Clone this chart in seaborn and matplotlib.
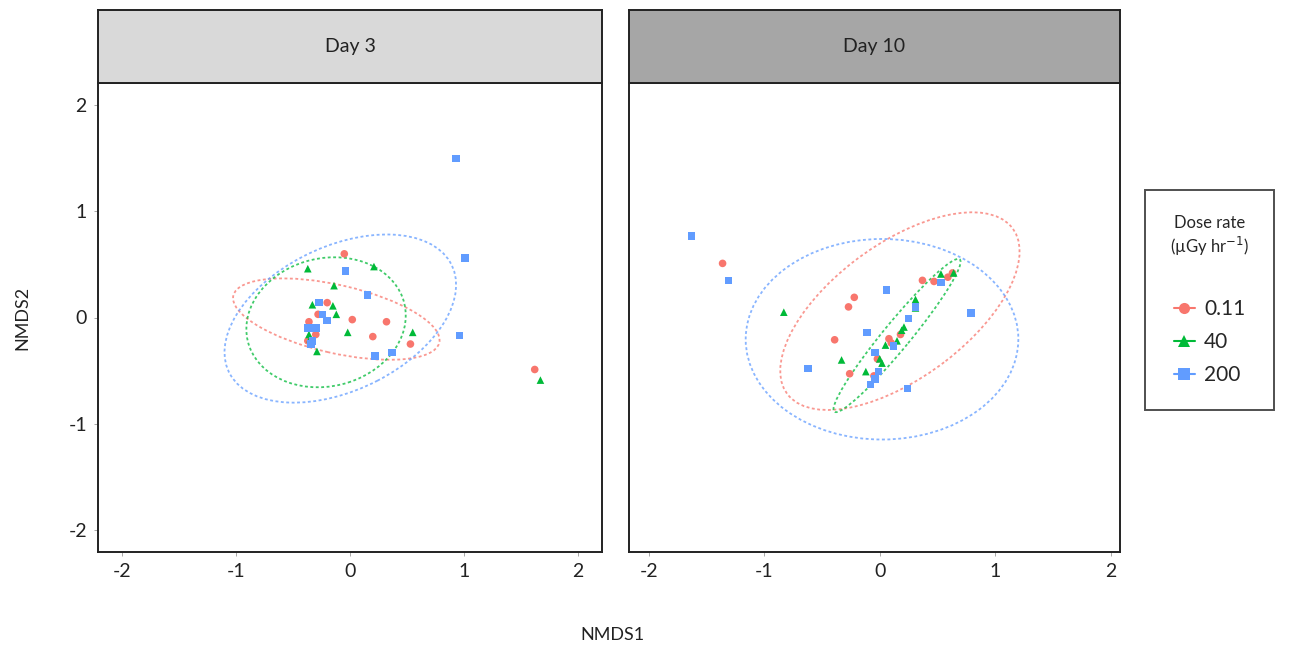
import matplotlib
matplotlib.use('Agg')
import matplotlib.pyplot as plt
import pandas as pd
import seaborn as sns
from matplotlib.patches import Ellipse
from matplotlib.lines import Line2D

# NMDS scores (day 3)
d3_x_low = [-0.05, -0.20, -0.28, 0.02, 0.32, -0.36, 0.20, 0.53, -0.30, -0.37, 1.62]
d3_y_low = [0.60, 0.14, 0.03, -0.02, -0.04, -0.04, -0.18, -0.25, -0.16, -0.22, -0.49]
d3_x_mid = [-0.37, 0.21, -0.14, -0.33, -0.15, -0.12, -0.02, 0.55, -0.36, -0.35, -0.29, 1.67]
d3_y_mid = [0.46, 0.48, 0.30, 0.12, 0.11, 0.03, -0.14, -0.14, -0.16, -0.20, -0.32, -0.59]
d3_x_high = [0.93, 1.01, -0.04, 0.155, -0.27, -0.24, -0.20, -0.37, -0.30, -0.33, -0.34, 0.22, 0.37, 0.96]
d3_y_high = [1.50, 0.56, 0.44, 0.21, 0.14, 0.03, -0.03, -0.10, -0.10, -0.22, -0.25, -0.36, -0.33, -0.17]

# day 10
d10_x_low = [-1.36, -0.22, -0.27, -0.39, -0.26, 0.08, 0.18, -0.02, -0.05, 0.37, 0.47, 0.59, 0.63, 0.10]
d10_y_low = [0.51, 0.19, 0.10, -0.21, -0.53, -0.20, -0.16, -0.39, -0.55, 0.35, 0.34, 0.38, 0.42, -0.24]
d10_x_mid = [-0.83, -0.33, -0.12, 0.02, 0.00, 0.05, 0.15, 0.21, 0.19, 0.31, 0.31, 0.53, 0.64]
d10_y_mid = [0.05, -0.40, -0.51, -0.43, -0.39, -0.26, -0.22, -0.09, -0.12, 0.17, 0.09, 0.41, 0.42]
d10_x_high = [-1.63, -1.31, 0.06, 0.79, 0.53, 0.31, 0.25, -0.11, 0.12, -0.04, -0.01, -0.04, -0.08, -0.62, 0.24]
d10_y_high = [0.77, 0.35, 0.26, 0.04, 0.33, 0.10, -0.01, -0.14, -0.27, -0.33, -0.51, -0.58, -0.63, -0.48, -0.67]

# ellipses: centre x, centre y, semi-major, semi-minor, angle (deg)
ell_d3_low = [-0.12, -0.015, 0.93, 0.32, -14]
ell_d3_mid = [-0.21, -0.045, 0.71, 0.60, 19]
ell_d3_high = [-0.085, -0.01, 1.10, 0.67, 29]
ell_d10_low = [0.175, 0.06, 1.25, 0.615, 40]
ell_d10_mid = [0.15, -0.17, 0.90, 0.12, 53]
ell_d10_high = [0.02, -0.205, 1.18, 0.945, 0]

doses = ['0.11', '40', '200']
days = ['Day 3', 'Day 10']
colors = {'0.11': '#F8766D', '40': '#00BA38', '200': '#619CFF'}
markers = {'0.11': 'o', '40': '^', '200': 's'}

rows = []
for day, groups in [('Day 3', [(d3_x_low, d3_y_low), (d3_x_mid, d3_y_mid), (d3_x_high, d3_y_high)]),
                    ('Day 10', [(d10_x_low, d10_y_low), (d10_x_mid, d10_y_mid), (d10_x_high, d10_y_high)])]:
    for dose, (xs, ys) in zip(doses, groups):
        for x, y in zip(xs, ys):
            rows.append({'day': day, 'dose': dose, 'NMDS1': x, 'NMDS2': y})
df = pd.DataFrame(rows)

ellipses = {
    'Day 3': dict(zip(doses, [ell_d3_low, ell_d3_mid, ell_d3_high])),
    'Day 10': dict(zip(doses, [ell_d10_low, ell_d10_mid, ell_d10_high])),
}

sns.set_style('white')
plt.rcParams['font.family'] = ['Lato', 'DejaVu Sans']
plt.rcParams['axes.unicode_minus'] = False

W, H = 1293, 648
fig = plt.figure(figsize=(W / 100, H / 100), dpi=100)

# panel boxes in pixels (left, right) and x limits
panels = {'Day 3': (98, 602), 'Day 10': (629, 1120)}
xlims = {'Day 3': (-2.21, 2.21), 'Day 10': (-2.17, 2.08)}
strip_colors = {'Day 3': '#d9d9d9', 'Day 10': '#a6a6a6'}
top, strip_top, bottom = 83, 10, 552
ylim = (-2.21, 2.21)

for day in days:
    x0, x1 = panels[day]
    ax = fig.add_axes([x0 / W, 1 - bottom / H, (x1 - x0) / W, (bottom - top) / H])
    sub = df[df['day'] == day]
    for dose in doses:
        cx, cy, a, b, ang = ellipses[day][dose]
        ax.add_patch(Ellipse((cx, cy), 2 * a, 2 * b, angle=ang, fill=False,
                             edgecolor=colors[dose], lw=1.3, linestyle=(0, (1.6, 1.4)), alpha=0.75))
    sns.scatterplot(data=sub, x='NMDS1', y='NMDS2', hue='dose', style='dose',
                    hue_order=doses, style_order=doses, palette=colors, markers=markers,
                    s=30, linewidth=0, legend=False, ax=ax, zorder=3)
    ax.set_xlim(*xlims[day])
    ax.set_ylim(*ylim)
    ax.set_xticks([-2, -1, 0, 1, 2])
    ax.set_yticks([-2, -1, 0, 1, 2])
    ax.set_xlabel('')
    ax.set_ylabel('')
    for sp in ax.spines.values():
        sp.set_color('#222222')
        sp.set_linewidth(1.4)
    ax.tick_params(axis='both', length=3, width=0.6, color='#999999', labelsize=14,
                   labelcolor='#222222', pad=5, bottom=True, left=(day == 'Day 3'))
    if day == 'Day 10':
        ax.set_yticklabels([])

    # facet strip
    sax = fig.add_axes([x0 / W, 1 - top / H, (x1 - x0) / W, (top - strip_top) / H])
    sax.set_facecolor(strip_colors[day])
    sax.set_xticks([])
    sax.set_yticks([])
    for sp in sax.spines.values():
        sp.set_color('#222222')
        sp.set_linewidth(1.4)
    sax.text(0.5, 0.5, day, ha='center', va='center', fontsize=14, color='#222222',
             transform=sax.transAxes)

fig.text(612 / W, 1 - 635 / H, 'NMDS1', ha='center', va='center', fontsize=13, color='#222222')
fig.text(22 / W, 1 - 318 / H, 'NMDS2', ha='center', va='center', rotation=90, fontsize=13, color='#222222')

handles = [Line2D([0], [0], color=colors[d], marker=markers[d], markersize=8, lw=1.5,
                  markeredgewidth=0) for d in doses]
leg = fig.legend(handles, doses, title='Dose rate\n(µGy hr$^{-1}$)', loc='upper left',
                 bbox_to_anchor=(1145 / W, 1 - 190 / H), borderaxespad=0, frameon=True, fontsize=15,
                 title_fontsize=12, handlelength=1.0, handletextpad=0.45, labelspacing=0.62,
                 borderpad=1.2, fancybox=False)
leg.get_frame().set_edgecolor('#222222')
leg.get_frame().set_linewidth(1.4)
leg.get_title().set_multialignment('center')
leg._legend_box.sep = 30

fig.savefig('out.png', dpi=100)
